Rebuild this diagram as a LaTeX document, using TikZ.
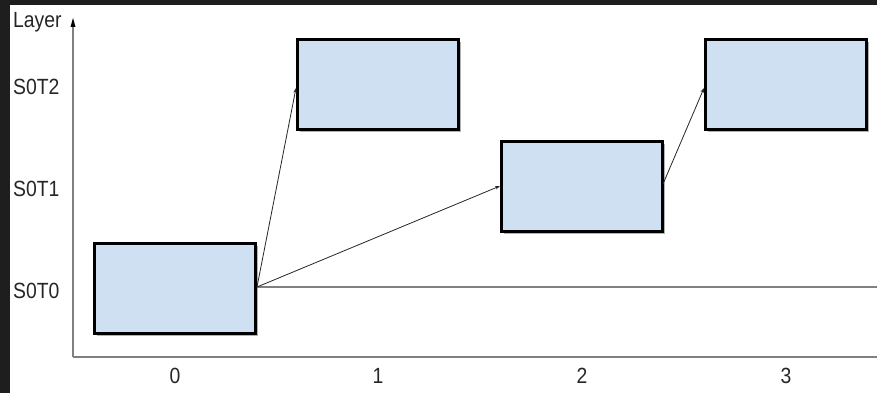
\documentclass[tikz,border=0pt]{standalone}
\usepackage{fontspec}
\setmainfont{Liberation Sans}
\usetikzlibrary{arrows.meta,shadows}
\definecolor{frame}{RGB}{30,30,30}
\definecolor{boxfill}{RGB}{206,224,241}
\definecolor{axisgray}{RGB}{128,128,128}
\tikzset{
  stagebox/.style={draw=black, line width=2.8pt, fill=boxfill, minimum width=161pt, minimum height=90pt, inner sep=0pt, anchor=north west,
    drop shadow={shadow xshift=2.5pt, shadow yshift=-3pt, fill=black, opacity=0.3}},
  axisline/.style={draw=axisgray, line width=2pt},
  link/.style={draw=black!85, line width=0.8pt, -{Stealth[length=5pt,width=3.5pt]}},
  lbl/.style={font=\fontsize{22}{22}\selectfont, text=black!85, inner sep=0pt}
}
\newcommand{\narrowtxt}[1]{\scalebox{0.88}[1]{#1}}
\begin{document}
\begin{tikzpicture}[x=1pt,y=-1pt]
\useasboundingbox (0,0) rectangle (877,393);
\fill[frame] (0,0) rectangle (877,393);
\fill[white] (10,5) rectangle (877,393);
% axes
\coordinate (origin) at (73,357);
\coordinate (ytop) at (73,18);
\coordinate (xend) at (877,357);
\draw[axisline] (origin) -- (xend);
\draw[axisline] (origin) -- (73,26);
\fill[black] (ytop) -- (70.5,27) -- (75.5,27) -- cycle;
% labels
\node[lbl, anchor=west] (layer) at (13,22) {\narrowtxt{Layer}};
\node[lbl, anchor=west] (l2) at (13,87) {\narrowtxt{S0T2}};
\node[lbl, anchor=west] (l1) at (13,189) {\narrowtxt{S0T1}};
\node[lbl, anchor=west] (l0) at (13,291) {\narrowtxt{S0T0}};
\node[lbl] (x0) at (175,376) {\narrowtxt{0}};
\node[lbl] (x1) at (378,376) {\narrowtxt{1}};
\node[lbl] (x2) at (582,376) {\narrowtxt{2}};
\node[lbl] (x3) at (786,376) {\narrowtxt{3}};
% boxes
\node[stagebox] (b0) at (93,242) {};
\node[stagebox] (b1) at (296,38) {};
\node[stagebox] (b2) at (500,140) {};
\node[stagebox] (b3) at (704,38) {};
% S0T0 line
\coordinate (a0) at (257,287);
\coordinate (s0end) at (877,287);
\draw[axisline, line width=1.6pt] (a0) -- (s0end);
% arrows
\coordinate (a2) at (663,184);
\draw[link] (a0) -- (b1.west |- 0,88);
\draw[link] (a0) -- (b2.west |- 0,186);
\draw[link] (a2) -- (b3.west |- 0,88);
\end{tikzpicture}
\end{document}
